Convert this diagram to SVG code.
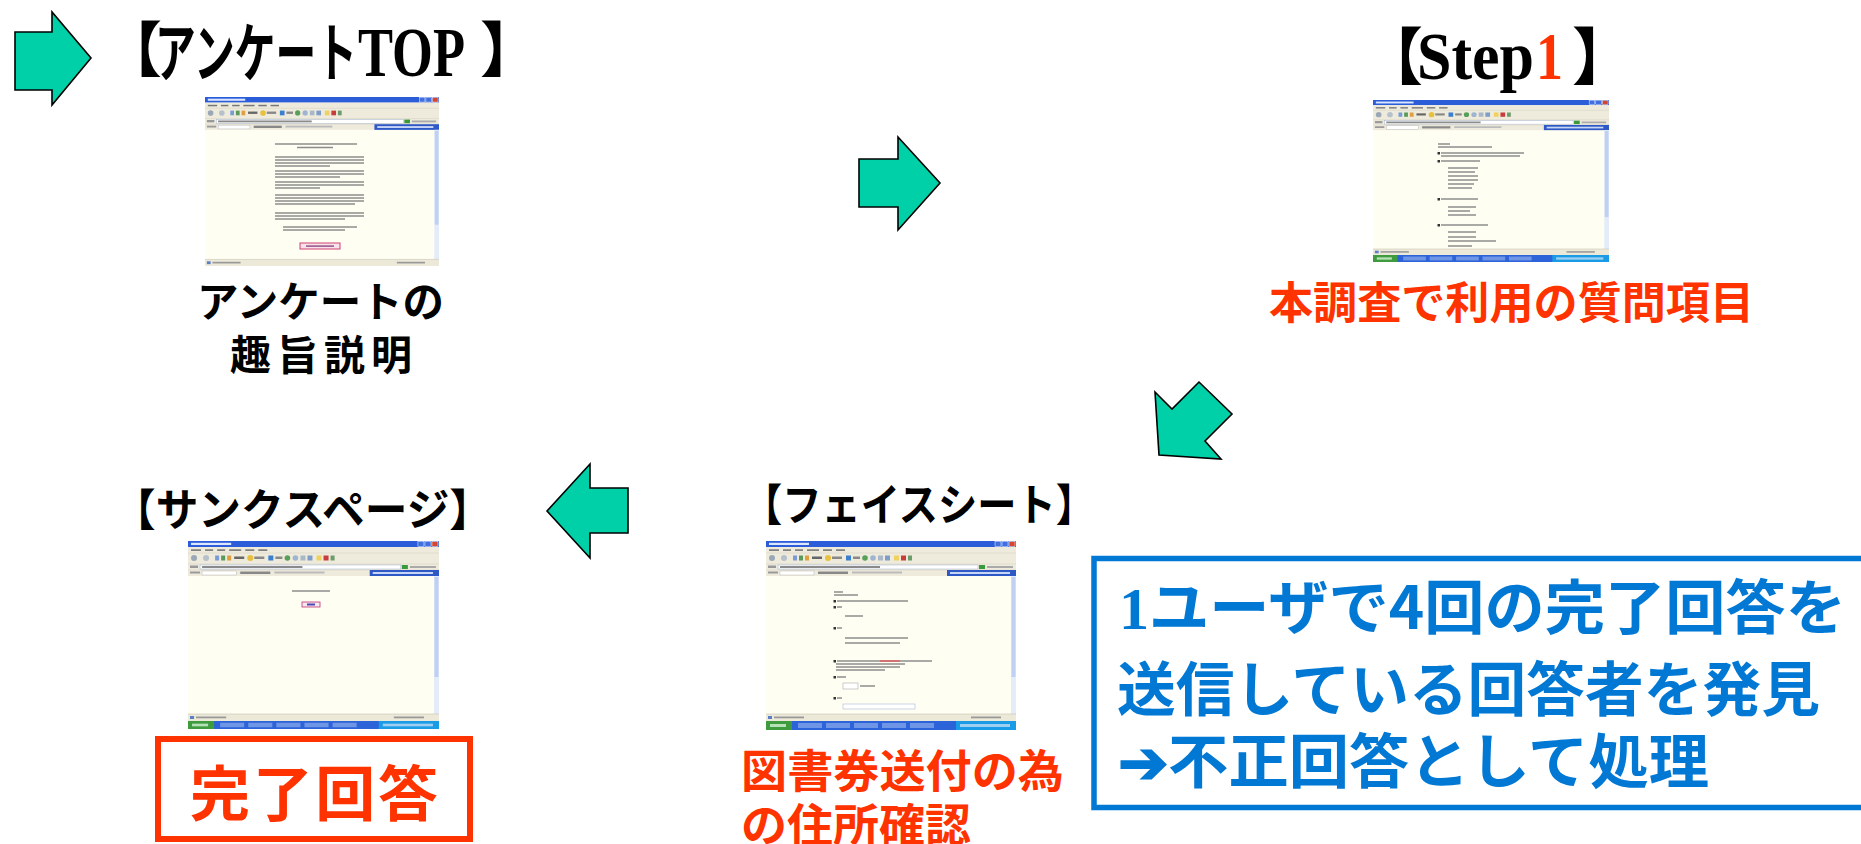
<svg xmlns="http://www.w3.org/2000/svg" xmlns:xlink="http://www.w3.org/1999/xlink" width="1861" height="844" viewBox="0 0 1861 844">
<style>
.jp{font-family:"Noto Sans CJK JP","Noto Sans CJK SC",sans-serif;font-weight:700}
.se{font-family:"Liberation Serif","Noto Sans CJK JP",serif;font-weight:700}
.blk{fill:#000}
.red{fill:#FF3300}
.blu{fill:#0078D4}
.arrow{fill:#00D0A8;stroke:#000;stroke-width:1.6;stroke-linejoin:miter}
.ln{stroke:#8c8c8c;stroke-width:1.5}
</style>
<defs>
<symbol id="chrome" viewBox="0 0 250 180" preserveAspectRatio="none">
<rect x="0" y="0" width="250" height="180" fill="#FFFEF3"/>
<rect x="0" y="0" width="250" height="6" fill="#2C5DD8"/>
<rect x="3" y="1.8" width="40" height="2.2" fill="#DDE6FF"/>
<rect x="229" y="0.6" width="6" height="4.8" fill="#3F6FE0" stroke="#fff" stroke-width="0.5"/>
<rect x="236" y="0.6" width="6" height="4.8" fill="#3F6FE0" stroke="#fff" stroke-width="0.5"/>
<rect x="243" y="0.6" width="6" height="4.8" fill="#D8452E" stroke="#fff" stroke-width="0.5"/>
<rect x="0" y="6" width="250" height="29" fill="#EEEBDD"/>
<g fill="#777">
<rect x="3" y="8.3" width="10" height="1.6"/><rect x="17" y="8.3" width="8" height="1.6"/><rect x="29" y="8.3" width="8" height="1.6"/><rect x="41" y="8.3" width="12" height="1.6"/><rect x="57" y="8.3" width="9" height="1.6"/><rect x="70" y="8.3" width="9" height="1.6"/>
</g>
<line x1="0" y1="12" x2="250" y2="12" stroke="#D6D2C2" stroke-width="0.6"/>
<g>
<circle cx="6" cy="17" r="3" fill="#9AA7B6"/><circle cx="18" cy="17" r="3" fill="#B7C1CC"/>
<rect x="27" y="14.5" width="4" height="5" fill="#7A9BD6"/><rect x="33" y="14.5" width="4" height="5" fill="#5A9A5A"/><rect x="39" y="14.5" width="4" height="5" fill="#E0A040"/>
<rect x="46" y="15.5" width="10" height="2.5" fill="#666"/>
<circle cx="62" cy="17" r="3" fill="#E8C040"/><rect x="66" y="15.5" width="10" height="2.5" fill="#888"/>
<rect x="80" y="14.5" width="5" height="5" fill="#3B7FCF"/><rect x="87" y="15.5" width="7" height="2.5" fill="#888"/>
<circle cx="99" cy="17" r="2.8" fill="#58A058"/><circle cx="107" cy="17" r="2.8" fill="#9FB4D0"/><rect x="112" y="14.5" width="5" height="5" fill="#A8B8C8"/><rect x="119" y="14.5" width="5" height="5" fill="#7E9EC8"/>
<rect x="128" y="14.5" width="5" height="5" fill="#F0D060"/><rect x="135" y="14.5" width="5" height="5" fill="#C83C3C"/><rect x="142" y="14.5" width="4" height="5" fill="#6C9C6C"/>
</g>
<line x1="0" y1="23" x2="250" y2="23" stroke="#D6D2C2" stroke-width="0.6"/>
<rect x="2" y="24.5" width="8" height="2.5" fill="#999"/>
<rect x="12" y="24" width="200" height="4" fill="#fff" stroke="#9BAFD0" stroke-width="0.5"/>
<rect x="14" y="25" width="100" height="2" fill="#8a8a8a"/>
<rect x="213" y="24" width="6" height="4" fill="#3A9A3A"/><rect x="221" y="25" width="26" height="2" fill="#aaa"/>
<line x1="0" y1="29" x2="250" y2="29" stroke="#D6D2C2" stroke-width="0.6"/>
<rect x="2" y="30.5" width="10" height="2" fill="#999"/>
<rect x="14" y="30" width="34" height="4" fill="#fff" stroke="#aaa" stroke-width="0.4"/>
<rect x="52" y="30.5" width="30" height="2.5" fill="#888"/>
<rect x="86" y="30.5" width="50" height="2" fill="#bbb"/>
<rect x="181" y="29" width="69" height="6" fill="#2D58C6"/>
<rect x="184" y="31" width="60" height="2" fill="#C8D6F6"/>
<rect x="245" y="35" width="5" height="138" fill="#E4ECFA"/>
<rect x="245.5" y="36" width="4" height="100" fill="#BFD0F2"/>
<rect x="0" y="173" width="250" height="7" fill="#ECE9D8"/>
<line x1="0" y1="173" x2="250" y2="173" stroke="#C8C4B4" stroke-width="0.6"/>
<rect x="2" y="175" width="4" height="3" fill="#5A7FC8"/><rect x="8" y="175.5" width="30" height="1.8" fill="#999"/>
<rect x="205" y="175.5" width="30" height="1.8" fill="#999"/>
</symbol>
<symbol id="taskbar" viewBox="0 0 250 9" preserveAspectRatio="none">
<rect x="0" y="0" width="250" height="9" fill="#2C63D8"/>
<rect x="0" y="0" width="26" height="9" fill="#3E9B3E"/>
<rect x="4" y="3" width="16" height="3" fill="#B6E0B6"/>
<g fill="#6F95E6"><rect x="32" y="2" width="24" height="5"/><rect x="60" y="2" width="24" height="5"/><rect x="88" y="2" width="24" height="5"/><rect x="116" y="2" width="24" height="5"/><rect x="144" y="2" width="24" height="5"/></g>
<rect x="190" y="0" width="60" height="9" fill="#1A9BE6"/>
<rect x="194" y="3" width="50" height="3" fill="#9CCFF2"/>
</symbol>
</defs>

<g id="connectors">
<polygon class="arrow" points="15,32 52,32 52,12 91,58 52,105 52,90 15,90"/>
<polygon class="arrow" points="859,159 898,159 898,137 940,183 898,230 898,207 859,207"/>
<polygon class="arrow" points="1155,392 1172,409 1199,382 1232,414 1205,441 1221,459 1159,455"/>
<polygon class="arrow" points="547,511 590,464 590,488 628,488 628,533 590,533 590,558"/>
</g>

<g id="node-top">
<text class="jp blk" x="102" y="72" font-size="60">【</text>
<text class="jp blk" x="155" y="76" font-size="64" textLength="202" lengthAdjust="spacingAndGlyphs">アンケート</text>
<text class="se blk" x="358" y="76" font-size="70" textLength="107" lengthAdjust="spacingAndGlyphs">TOP</text>
<text class="jp blk" x="480" y="72" font-size="60">】</text>
<use href="#chrome" x="205" y="97" width="234" height="169"/>
<g class="ln">
<line x1="275" y1="144" x2="357" y2="144"/><line x1="297" y1="147.5" x2="333" y2="147.5"/>
<line x1="275" y1="157" x2="364" y2="157"/><line x1="275" y1="160" x2="364" y2="160"/><line x1="275" y1="163" x2="364" y2="163"/><line x1="275" y1="166" x2="330" y2="166"/>
<line x1="275" y1="171" x2="364" y2="171"/><line x1="275" y1="174" x2="364" y2="174"/><line x1="275" y1="177" x2="340" y2="177"/>
<line x1="275" y1="182" x2="364" y2="182"/><line x1="275" y1="185" x2="364" y2="185"/><line x1="275" y1="188" x2="320" y2="188"/>
<line x1="275" y1="195" x2="364" y2="195"/><line x1="275" y1="198" x2="364" y2="198"/><line x1="275" y1="201" x2="364" y2="201"/><line x1="275" y1="204" x2="355" y2="204"/>
<line x1="275" y1="213" x2="364" y2="213"/><line x1="275" y1="216" x2="364" y2="216"/><line x1="275" y1="219" x2="345" y2="219"/>
<line x1="283" y1="227" x2="357" y2="227"/><line x1="283" y1="230" x2="345" y2="230"/>
</g>
<rect x="300" y="243" width="40" height="6" fill="#F8E2EC" stroke="#D04070" stroke-width="1"/>
<rect x="306" y="245.3" width="28" height="1.6" fill="#9a5a8a"/>
<text class="jp blk" x="197" y="317" font-size="42" textLength="247" lengthAdjust="spacingAndGlyphs">アンケートの</text>
<text class="jp blk" x="230" y="370" font-size="41" textLength="182" lengthAdjust="spacing">趣旨説明</text>
</g>

<g id="node-step1">
<text class="jp blk" x="1361" y="80" font-size="62">【</text>
<text class="se blk" x="1417" y="79" font-size="68" textLength="117" lengthAdjust="spacingAndGlyphs">Step</text>
<text class="se red" x="1536" y="79" font-size="68" textLength="27" lengthAdjust="spacingAndGlyphs">1</text>
<text class="jp blk" x="1572" y="80" font-size="62">】</text>
<use href="#chrome" x="1373" y="100" width="236" height="155"/>
<use href="#taskbar" x="1373" y="255" width="236" height="7"/>
<g class="ln">
<line x1="1438" y1="144" x2="1450" y2="144"/><line x1="1438" y1="147" x2="1492" y2="147"/>
<line x1="1441" y1="153" x2="1524" y2="153"/><line x1="1441" y1="156" x2="1520" y2="156"/><line x1="1441" y1="161" x2="1480" y2="161"/>
<line x1="1448" y1="168" x2="1478" y2="168"/><line x1="1448" y1="172" x2="1475" y2="172"/><line x1="1448" y1="176" x2="1478" y2="176"/><line x1="1448" y1="180" x2="1478" y2="180"/><line x1="1448" y1="184" x2="1474" y2="184"/><line x1="1448" y1="188" x2="1472" y2="188"/>
<line x1="1441" y1="199" x2="1478" y2="199"/>
<line x1="1448" y1="207" x2="1476" y2="207"/><line x1="1448" y1="211" x2="1470" y2="211"/><line x1="1448" y1="215" x2="1476" y2="215"/>
<line x1="1441" y1="225" x2="1488" y2="225"/>
<line x1="1448" y1="232" x2="1476" y2="232"/><line x1="1448" y1="237" x2="1476" y2="237"/><line x1="1448" y1="241" x2="1496" y2="241"/><line x1="1448" y1="246" x2="1472" y2="246"/>
</g>
<g fill="#333"><rect x="1437.5" y="152" width="2.5" height="2.5"/><rect x="1437.5" y="160" width="2.5" height="2.5"/><rect x="1437.5" y="198" width="2.5" height="2.5"/><rect x="1437.5" y="224" width="2.5" height="2.5"/></g>
<text class="jp red" x="1269" y="319" font-size="44" textLength="485" lengthAdjust="spacingAndGlyphs">本調査で利用の質問項目</text>
</g>

<g id="node-facesheet">
<text class="jp blk" x="743" y="521" font-size="44" textLength="352" lengthAdjust="spacingAndGlyphs">【フェイスシート】</text>
<use href="#chrome" x="766" y="541" width="250" height="180"/>
<use href="#taskbar" x="766" y="721" width="250" height="9"/>
<g class="ln">
<line x1="834" y1="592" x2="843" y2="592"/><line x1="834" y1="595" x2="858" y2="595"/>
<line x1="837" y1="601" x2="908" y2="601"/><line x1="837" y1="607" x2="842" y2="607"/>
<line x1="845" y1="616" x2="863" y2="616"/>
<line x1="837" y1="628" x2="842" y2="628"/>
<line x1="845" y1="638" x2="908" y2="638"/><line x1="845" y1="643" x2="900" y2="643"/>
<line x1="837" y1="661" x2="932" y2="661"/><line x1="836" y1="664" x2="905" y2="664"/><line x1="836" y1="667" x2="900" y2="667"/><line x1="836" y1="670" x2="885" y2="670"/>
<line x1="837" y1="677" x2="846" y2="677"/>
<line x1="860" y1="686" x2="875" y2="686"/>
<line x1="837" y1="698" x2="842" y2="698"/>
</g>
<line x1="880" y1="661" x2="900" y2="661" stroke="#E06060" stroke-width="1.5"/>
<g fill="#333"><rect x="833.5" y="600" width="2.5" height="2.5"/><rect x="833.5" y="606" width="2.5" height="2.5"/><rect x="833.5" y="627" width="2.5" height="2.5"/><rect x="833.5" y="660" width="2.5" height="2.5"/><rect x="833.5" y="676" width="2.5" height="2.5"/><rect x="833.5" y="697" width="2.5" height="2.5"/></g>
<rect x="843" y="683" width="15" height="6" fill="#fff" stroke="#aaa" stroke-width="0.6"/>
<rect x="843" y="704" width="72" height="5" fill="#fff" stroke="#A8B8D8" stroke-width="0.6"/>
<text class="jp red" x="741" y="788" font-size="45" textLength="323" lengthAdjust="spacingAndGlyphs">図書券送付の為</text>
<text class="jp red" x="741" y="842" font-size="45" textLength="230" lengthAdjust="spacingAndGlyphs">の住所確認</text>
</g>

<g id="node-thanks">
<text class="jp blk" x="113" y="526" font-size="44" textLength="379" lengthAdjust="spacingAndGlyphs">【サンクスページ】</text>
<use href="#chrome" x="188" y="541" width="251" height="180"/>
<use href="#taskbar" x="188" y="721" width="251" height="8"/>
<line class="ln" x1="292" y1="591" x2="330" y2="591"/>
<rect x="302" y="602" width="18" height="5" fill="#F6E6F0" stroke="#C03070" stroke-width="0.8"/>
<rect x="307" y="603.5" width="8" height="2" fill="#4a4ab0"/>
<rect x="158" y="739" width="312" height="100" fill="none" stroke="#FF3300" stroke-width="6"/>
<text class="jp red" x="190" y="816" font-size="60" textLength="248" lengthAdjust="spacing">完了回答</text>
</g>

<g id="node-note">
<rect x="1094" y="558.5" width="780" height="249" fill="none" stroke="#0078D4" stroke-width="5.5"/>
<text class="jp blu" x="1119" y="629" font-size="59" textLength="727" lengthAdjust="spacingAndGlyphs"><tspan class="se">1</tspan>ユーザで4回の完了回答を</text>
<text class="jp blu" x="1117" y="711" font-size="59" textLength="703" lengthAdjust="spacingAndGlyphs">送信している回答者を発見</text>
<text class="jp blu" x="1118" y="783" font-size="59" textLength="591" lengthAdjust="spacingAndGlyphs">➔不正回答として処理</text>
</g>
</svg>
